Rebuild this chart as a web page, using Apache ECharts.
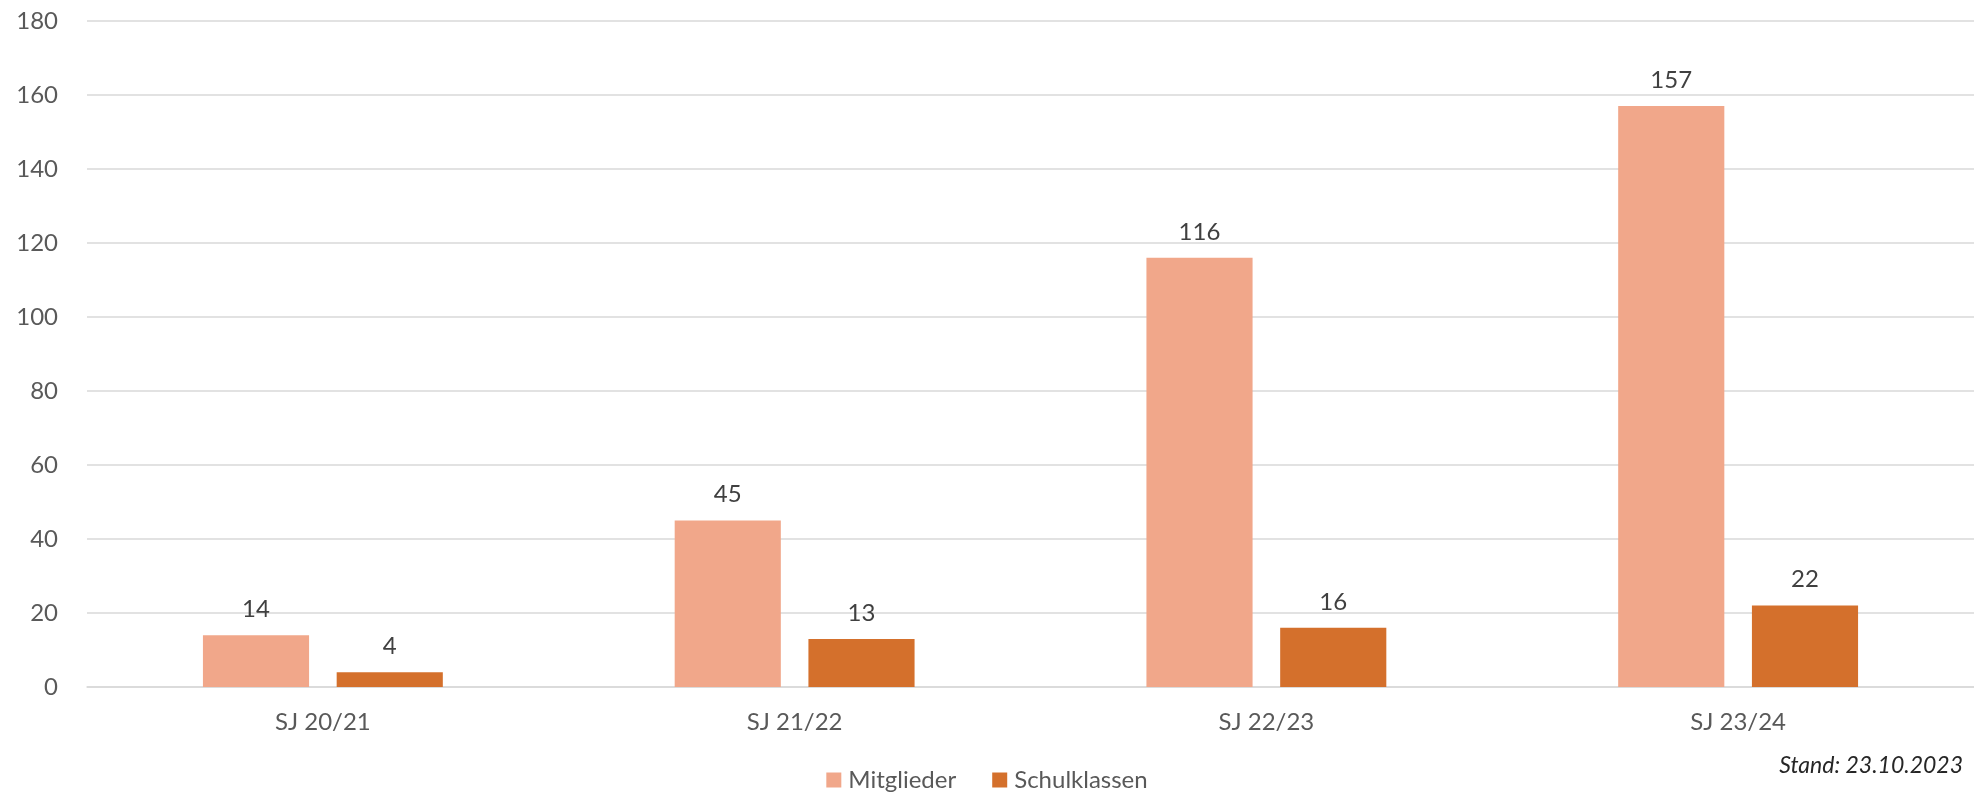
<!DOCTYPE html>
<html><head><meta charset="utf-8">
<script src="https://cdn.jsdelivr.net/npm/echarts@6/dist/echarts.min.js"></script>
<style>html,body{margin:0;padding:0;background:#fff}#c{width:1974px;height:795px}</style>
</head><body><div id="c"></div>
<script>
const categories = ["SJ 20/21", "SJ 21/22", "SJ 22/23", "SJ 23/24"];
const mitglieder = [14, 45, 116, 157];
const schulklassen = [4, 13, 16, 22];
const seriesNames = ["Mitglieder", "Schulklassen"];
const footnote = "Stand: 23.10.2023";

const font = "Lato, 'Open Sans', sans-serif";
const chart = echarts.init(document.getElementById('c'), null, {renderer: 'canvas'});
const labelStyle = {show: true, position: 'top', distance: 14, color: '#404040', fontSize: 24, fontFamily: font};
chart.setOption({
  animation: false,
  textStyle: {fontFamily: font},
  grid: {left: 87, right: 0, top: 21, bottom: 108, containLabel: false},
  legend: {
    data: seriesNames, top: 763, left: 'center', itemWidth: 15, itemHeight: 15, itemGap: 36,
    icon: 'rect', textStyle: {color: '#595959', fontSize: 24, fontFamily: font, padding: [0, 0, 0, 2]}
  },
  graphic: [{type: 'text', right: 11, top: 754, style: {text: footnote, fill: '#262626', fontSize: 23, fontStyle: 'italic', fontFamily: font}}],
  xAxis: {
    type: 'category', data: categories,
    axisLine: {show: true, lineStyle: {color: '#d9d9d9', width: 1.5}},
    axisTick: {show: false},
    axisLabel: {color: '#595959', fontSize: 24, margin: 23, fontFamily: font}
  },
  yAxis: {
    type: 'value', min: 0, max: 180, interval: 20,
    axisLine: {show: false}, axisTick: {show: false},
    axisLabel: {color: '#595959', fontSize: 24, margin: 29, fontFamily: font},
    splitLine: {lineStyle: {color: '#d9d9d9', width: 1.5}}
  },
  series: [
    {name: seriesNames[0], type: 'bar', data: mitglieder, barWidth: '22.5%', barGap: '26%',
     itemStyle: {color: '#F1A78A'}, label: labelStyle},
    {name: seriesNames[1], type: 'bar', data: schulklassen, barWidth: '22.5%',
     itemStyle: {color: '#D4702C'}, label: labelStyle}
  ]
});
</script></body></html>
